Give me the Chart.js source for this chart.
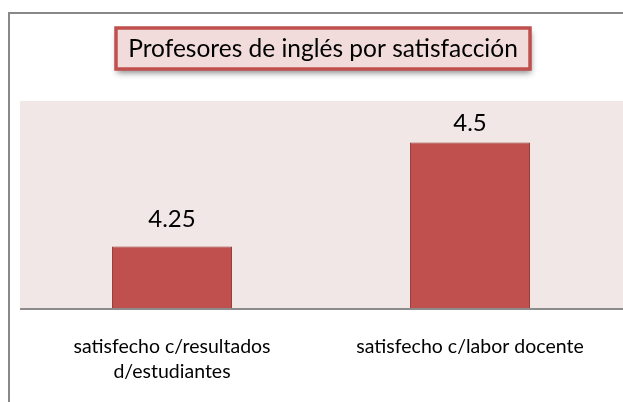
<!DOCTYPE html>
<html>
<head>
<meta charset="utf-8">
<script src="https://cdn.jsdelivr.net/npm/chart.js@4"></script>
<style>
  html, body { margin: 0; padding: 0; background: #fff; }
  canvas { display: block; }
</style>
</head>
<body>
<canvas id="barChart" width="623" height="402"></canvas>
<script>
// chart data
const chartTitle = 'Profesores de inglés por satisfacción';
const categories = [['satisfecho c/resultados', 'd/estudiantes'], 'satisfecho c/labor docente'];
const seriesName = 'Profesores';
const values = [4.25, 4.5];
const valueLabels = ['4.25', '4.5'];
const axisMin = 4.1;
const axisMax = 4.6;

const FONT = 'Lato, "Open Sans", sans-serif';

// frame, title box, plot background and value labels
const decorPlugin = {
    id: 'decor',
    beforeDraw(chart) {
        const ctx = chart.ctx;
        const area = chart.chartArea;
        ctx.save();
        // outer frame (only top and left visible)
        ctx.strokeStyle = '#888888';
        ctx.lineWidth = 2;
        ctx.beginPath();
        ctx.moveTo(9, chart.height);
        ctx.lineTo(9, 13);
        ctx.lineTo(chart.width, 13);
        ctx.stroke();
        // plot area background
        ctx.fillStyle = '#f2e7e7';
        ctx.fillRect(area.left - 3, area.top, chart.width - area.left + 3, area.bottom - area.top);
        // title box with shadow
        ctx.shadowColor = 'rgba(0,0,0,0.45)';
        ctx.shadowBlur = 6;
        ctx.shadowOffsetX = 1;
        ctx.shadowOffsetY = 4;
        ctx.fillStyle = '#f2dcdb';
        ctx.fillRect(116, 28, 414, 41);
        ctx.shadowColor = 'transparent';
        ctx.strokeStyle = '#c0504d';
        ctx.lineWidth = 3.5;
        ctx.strokeRect(116, 28, 414, 41);
        ctx.fillStyle = '#000';
        ctx.font = '24.5px ' + FONT;
        ctx.textAlign = 'center';
        ctx.textBaseline = 'middle';
        ctx.fillText(chartTitle, 323, 49);
        ctx.restore();
    },
    afterDatasetsDraw(chart) {
        const ctx = chart.ctx;
        const area = chart.chartArea;
        const meta = chart.getDatasetMeta(0);
        const gaps = [18, 10];
        ctx.save();
        // baseline
        ctx.strokeStyle = '#8c8c8c';
        ctx.lineWidth = 2;
        ctx.beginPath();
        ctx.moveTo(area.left - 3, area.bottom);
        ctx.lineTo(chart.width, area.bottom);
        ctx.stroke();
        ctx.fillStyle = '#000';
        ctx.font = '24px ' + FONT;
        ctx.textAlign = 'center';
        ctx.textBaseline = 'bottom';
        meta.data.forEach((bar, i) => {
            ctx.fillText(valueLabels[i], bar.x, bar.y - gaps[i] + 3);
        });
        ctx.restore();
    }
};

new Chart(document.getElementById('barChart').getContext('2d'), {
    type: 'bar',
    data: {
        labels: categories,
        datasets: [{
            label: seriesName,
            data: values,
            backgroundColor: '#c0504d',
            borderColor: '#923633',
            borderWidth: 1,
            borderSkipped: 'bottom',
            categoryPercentage: 1,
            barPercentage: 0.403
        }]
    },
    options: {
        responsive: false,
        animation: false,
        layout: { padding: { left: 23, right: 4, top: 101, bottom: 0 } },
        scales: {
            x: {
                grid: { display: false, drawTicks: false },
                border: { display: false },
                ticks: {
                    color: '#000',
                    padding: 25,
                    font: { family: FONT, size: 19.5, lineHeight: 1.28 },
                    maxRotation: 0
                },
                afterFit(axis) { axis.height = 93; }
            },
            y: {
                display: false,
                min: axisMin,
                max: axisMax
            }
        },
        plugins: {
            legend: { display: false },
            tooltip: { enabled: false },
            title: { display: false }
        }
    },
    plugins: [decorPlugin]
});
</script>
</body>
</html>
